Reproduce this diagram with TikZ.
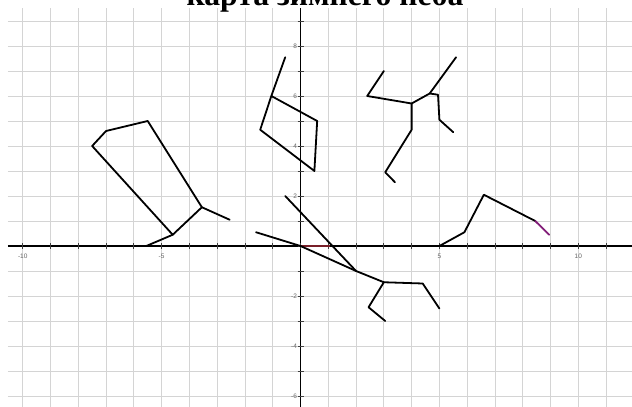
\documentclass[tikz,border=0pt]{standalone}
\usepackage{fontspec}
\setmainfont{Liberation Serif}
\setsansfont{Liberation Sans}
\begin{document}
\begin{tikzpicture}[
  gridline/.style={draw=black!17, line width=0.8pt},
  axisline/.style={draw=black, line width=1.9pt},
  tickmark/.style={draw=black!75, line width=0.7pt},
  ticklabel/.style={font=\sffamily\fontsize{6.5}{7}\selectfont, text=black!60, inner sep=0pt},
  starline/.style={draw=black, line width=1.8pt, line cap=round, line join=round},
  purpleline/.style={draw={rgb,255:red,130;green,30;blue,120}, line width=1.8pt, line cap=round},
  originmark/.style={draw={rgb,255:red,120;green,30;blue,40}, line width=1.9pt},
]
\useasboundingbox (0,0) rectangle (632pt,407pt);
\fill[white] (0,0) rectangle (632pt,407pt);
\node[font=\fontsize{31.7}{36}\selectfont\bfseries, anchor=base, inner sep=0pt] (title) at (325pt,401.5pt) {карта зимнего неба};
\begin{scope}[shift={(300.5pt,161pt)}, x=27.78pt, y=25pt]
  % grid
  \foreach \i in {-10,...,11} \draw[gridline] (\i,-6.44) -- (\i,9.52);
  \foreach \j in {-6,...,9} \draw[gridline] (-10.53,\j) -- (11.93,\j);
  % axes
  \coordinate (xl) at (-10.53,0);
  \coordinate (xr) at (11.93,0);
  \coordinate (yb) at (0,-6.44);
  \coordinate (yt) at (0,9.52);
  \draw[axisline] (xl) -- (xr);
  \draw[axisline] (yb) -- (yt);
  \foreach \i in {-10,...,11} \draw[tickmark] (\i,0) ++(0,-3pt) -- ++(0,6pt);
  \foreach \j in {-6,...,9} \draw[tickmark] (0,\j) ++(-3pt,0) -- ++(6pt,0);
  \foreach \i in {-10,-5,5,10} \node[ticklabel] (xlab\i) at (\i,-0.42) {\i};
  \foreach \j in {-6,-4,-2,2,4,6,8} \node[ticklabel, anchor=east] (ylab\j) at (-0.12,\j) {\j};
  \coordinate (O) at (0,0);
  \coordinate (Ox) at (1.07,0);
  \draw[originmark] (O) -- (Ox);

  % constellation 1 (left)
  \coordinate (A) at (-7.5,4);
  \coordinate (B) at (-7,4.6);
  \coordinate (C) at (-5.5,5);
  \coordinate (D) at (-3.55,1.55);
  \coordinate (E) at (-2.55,1.05);
  \coordinate (F) at (-4.6,0.45);
  \coordinate (G) at (-5.55,0);
  \draw[starline] (E) -- (D) -- (C) -- (B) -- (A) -- (F) -- (G);
  \draw[starline] (D) -- (F);

  % constellation 2
  \coordinate (P1) at (-0.55,7.55);
  \coordinate (P2) at (-1.05,6);
  \coordinate (P3) at (-1.45,4.65);
  \coordinate (P4) at (0.6,5);
  \coordinate (P5) at (0.5,3);
  \draw[starline] (P1) -- (P2) -- (P4) -- (P5) -- (P3) -- (P2);

  % constellation 3
  \coordinate (Q1) at (3,7);
  \coordinate (Q2) at (2.4,6);
  \coordinate (Q3) at (4,5.7);
  \coordinate (Q4) at (4.65,6.1);
  \coordinate (Q5) at (5.6,7.55);
  \coordinate (Q6) at (4.95,6.05);
  \coordinate (Q7) at (5,5.05);
  \coordinate (Q8) at (5.5,4.55);
  \coordinate (Q9) at (4,4.65);
  \coordinate (Q10) at (3.05,2.95);
  \coordinate (Q11) at (3.4,2.55);
  \draw[starline] (Q1) -- (Q2) -- (Q3) -- (Q4) -- (Q5);
  \draw[starline] (Q4) -- (Q6) -- (Q7) -- (Q8);
  \draw[starline] (Q3) -- (Q9) -- (Q10) -- (Q11);

  % constellation 4
  \coordinate (R1) at (-0.55,2);
  \coordinate (R2) at (2,-1);
  \coordinate (R3) at (-1.6,0.55);
  \coordinate (R4) at (3,-1.45);
  \coordinate (R5) at (4.4,-1.5);
  \coordinate (R6) at (5,-2.5);
  \coordinate (R7) at (2.45,-2.45);
  \coordinate (R8) at (3.05,-3);
  \draw[starline] (R1) -- (R2);
  \draw[starline] (R3) -- (O) -- (R2) -- (R4) -- (R5) -- (R6);
  \draw[starline] (R4) -- (R7) -- (R8);

  % constellation 5
  \coordinate (S1) at (5,0);
  \coordinate (S2) at (5.9,0.55);
  \coordinate (S3) at (6.6,2.05);
  \coordinate (S4) at (8.45,1);
  \coordinate (S5) at (8.95,0.45);
  \draw[starline] (S1) -- (S2) -- (S3) -- (S4);
  \draw[purpleline] (S4) -- (S5);
\end{scope}
\end{tikzpicture}
\end{document}
